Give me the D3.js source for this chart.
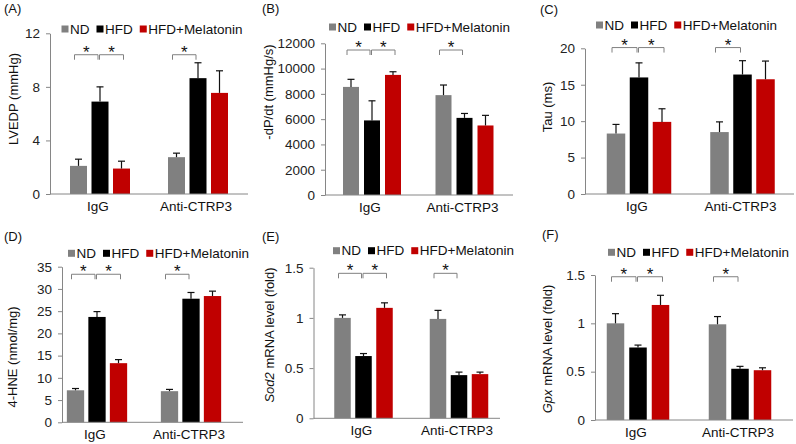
<!DOCTYPE html>
<html><head><meta charset="utf-8">
<script src="https://cdn.jsdelivr.net/npm/d3@7"></script>
<style>
body{margin:0;background:#fff}
svg{display:block}
text{font-family:Arial,"Liberation Sans",sans-serif}
</style>
</head><body>
<svg id="chart" width="796" height="444"></svg>
<script>
// ---------- data ----------
const categories = ["IgG", "Anti-CTRP3"];
const seriesNames = ["ND", "HFD", "HFD+Melatonin"];

// values per category: [ND, HFD, HFD+Melatonin]
const lvedpMean = [[2.1, 6.9, 1.9], [2.75, 8.65, 7.55]];
const lvedpErr  = [[0.5, 1.1, 0.55], [0.3, 1.15, 1.65]];
const dpdtMean  = [[8550, 5900, 9500], [7900, 6100, 5500]];
const dpdtErr   = [[600, 1550, 250], [800, 350, 800]];
const tauMean   = [[8.3, 16.0, 9.9], [8.5, 16.4, 15.75]];
const tauErr    = [[1.25, 2.0, 1.8], [1.4, 1.9, 2.5]];
const hneMean   = [[7.2, 23.7, 13.3], [7.0, 27.8, 28.4]];
const hneErr    = [[0.4, 1.2, 0.8], [0.4, 1.4, 1.1]];
const sod2Mean  = [[1.0, 0.62, 1.10], [0.99, 0.43, 0.44]];
const sod2Err   = [[0.03, 0.025, 0.05], [0.085, 0.03, 0.02]];
const gpxMean   = [[1.0, 0.75, 1.19], [0.99, 0.53, 0.515]];
const gpxErr    = [[0.1, 0.025, 0.1], [0.08, 0.025, 0.025]];

const ticksA = [0, 4, 8, 12];
const ticksB = [0, 2000, 4000, 6000, 8000, 10000, 12000];
const ticksC = [0, 5, 10, 15, 20];
const ticksD = [0, 5, 10, 15, 20, 25, 30, 35];
const ticksE = [0, 0.5, 1, 1.5];
const ticksF = [0, 0.5, 1, 1.5];

const panelLabels = ["(A)", "(B)", "(C)", "(D)", "(E)", "(F)"];
// significance brackets: [category index, series a, series b]
const sigPairs = [[0, 0, 1], [0, 1, 2], [1, 0, 1]];
const sigLevel = [10.4, 11470, 20.1, 33.3, 1.444, 1.482];

// ---------- styles ----------
const colors = {"ND": "#808080", "HFD": "#000000", "HFD+Melatonin": "#c00000"};
const axisColor = "#868686";

const panels = [
  {label: panelLabels[0], title: [{t: "LVEDP (mmHg)"}], mean: lvedpMean, err: lvedpErr, ticks: ticksA, sig: sigLevel[0],
   L: {ax: 50, ae: 248, yb: 194, yt: 33.3, c1: 100, c2: 198, bw: 17, st: 21.5, tx: 13, ty: 99, lx: 61.5, ly: 29, px: 4, py: 13}},
  {label: panelLabels[1], title: [{t: "-dP/dt (mmHg/s)"}], mean: dpdtMean, err: dpdtErr, ticks: ticksB, sig: sigLevel[1],
   L: {ax: 325, ae: 513, yb: 195, yt: 43.3, c1: 372, c2: 464.5, bw: 16, st: 21, tx: 268, ty: 92, lx: 329, ly: 27, px: 262, py: 13}},
  {label: panelLabels[2], title: [{t: "Tau (ms)"}], mean: tauMean, err: tauErr, ticks: ticksC, sig: sigLevel[2],
   L: {ax: 585, ae: 794, yb: 194, yt: 48.3, c1: 639, c2: 742.5, bw: 18.5, st: 23, tx: 547, ty: 107, lx: 596, ly: 25, px: 540, py: 14}},
  {label: panelLabels[3], title: [{t: "4-HNE (nmol/mg)"}], mean: hneMean, err: hneErr, ticks: ticksD, sig: sigLevel[3],
   L: {ax: 62, ae: 243, yb: 422.3, yt: 266.7, c1: 97, c2: 191, bw: 17.3, st: 21.5, tx: 12, ty: 357, lx: 68, ly: 253.3, px: 4, py: 241}},
  {label: panelLabels[4], title: [{t: "Sod2", i: true}, {t: " mRNA level (fold)"}], mean: sod2Mean, err: sod2Err, ticks: ticksE, sig: sigLevel[4],
   L: {ax: 313.5, ae: 500, yb: 418.3, yt: 267.7, c1: 363.5, c2: 459, bw: 16.5, st: 21, tx: 269, ty: 335, lx: 333, ly: 250.7, px: 262, py: 241}},
  {label: panelLabels[5], title: [{t: "Gpx", i: true}, {t: " mRNA level (fold)"}], mean: gpxMean, err: gpxErr, ticks: ticksF, sig: sigLevel[5],
   L: {ax: 595, ae: 793, yb: 420, yt: 275, c1: 638, c2: 740, bw: 17.5, st: 22.5, tx: 547, ty: 349, lx: 608, ly: 252.3, px: 542, py: 239}}
];

const svg = d3.select("#chart");

panels.forEach(p => {
  const L = p.L;
  const g = svg.append("g");
  const half = (L.c2 - L.c1) / 2;
  const x0 = d3.scaleBand().domain(categories).range([L.c1 - half, L.c2 + half]);
  const pad = 1 - L.bw / L.st;
  const x1 = d3.scaleBand().domain(seriesNames).range([-1.5 * L.st, 1.5 * L.st]).paddingInner(pad).paddingOuter(pad / 2);
  const y = d3.scaleLinear().domain([d3.min(p.ticks), d3.max(p.ticks)]).range([L.yb, L.yt]);
  const cx = c => x0(c) + x0.bandwidth() / 2;
  const barCenter = (c, s) => cx(c) + x1(s) + x1.bandwidth() / 2;

  // panel label
  g.append("text").attr("x", L.px).attr("y", L.py).attr("font-size", 13).attr("fill", "#111").text(p.label);

  // y axis
  const ya = g.append("g").attr("transform", `translate(${L.ax},0)`)
    .call(d3.axisLeft(y).tickValues(p.ticks).tickSize(4).tickSizeOuter(0).tickPadding(6).tickFormat(d => String(d)));
  ya.select(".domain").attr("stroke", axisColor);
  ya.selectAll(".tick line").attr("stroke", axisColor);
  ya.selectAll(".tick text").attr("font-size", 13.5).attr("fill", "#222")
    .attr("font-family", 'Arial,"Liberation Sans",sans-serif');

  // y title
  const tt = g.append("text").attr("transform", `translate(${L.tx},${L.ty}) rotate(-90)`)
    .attr("text-anchor", "middle").attr("dy", "0.35em").attr("font-size", 13).attr("fill", "#111");
  p.title.forEach(part => tt.append("tspan").attr("font-style", part.i ? "italic" : "normal").text(part.t));

  // bars
  const rows = [];
  categories.forEach((c, ci) => seriesNames.forEach((s, si) => rows.push({c, s, v: p.mean[ci][si], e: p.err[ci][si]})));
  g.selectAll("rect.bar").data(rows).join("rect").attr("class", "bar")
    .attr("x", d => cx(d.c) + x1(d.s)).attr("width", x1.bandwidth())
    .attr("y", d => y(d.v)).attr("height", d => y(0) - y(d.v))
    .attr("fill", d => colors[d.s]);

  // error bars (upper)
  const eb = g.selectAll("g.eb").data(rows).join("g").attr("class", "eb");
  eb.append("line").attr("x1", d => barCenter(d.c, d.s)).attr("x2", d => barCenter(d.c, d.s))
    .attr("y1", d => y(d.v)).attr("y2", d => y(d.v + d.e)).attr("stroke", "#111").attr("stroke-width", 1.2);
  eb.append("line").attr("x1", d => barCenter(d.c, d.s) - 3.5).attr("x2", d => barCenter(d.c, d.s) + 3.5)
    .attr("y1", d => y(d.v + d.e)).attr("y2", d => y(d.v + d.e)).attr("stroke", "#111").attr("stroke-width", 1.2);

  // x axis line
  g.append("line").attr("x1", L.ax).attr("x2", L.ae).attr("y1", y(0)).attr("y2", y(0)).attr("stroke", axisColor).attr("stroke-width", 1);

  // category labels
  g.selectAll("text.cat").data(categories).join("text").attr("class", "cat")
    .attr("x", d => cx(d) - 2).attr("y", y(0) + 16.5).attr("text-anchor", "middle")
    .attr("font-size", 13.5).attr("fill", "#111").text(d => d);

  // significance brackets
  const by = y(p.sig);
  sigPairs.forEach(([ci, a, b]) => {
    const c = categories[ci];
    const xa = barCenter(c, seriesNames[a]) - (a === 0 ? 4 : 0.5);
    const xb = barCenter(c, seriesNames[b]) - (b === 1 ? 2 : -2);
    g.append("path").attr("d", `M${xa},${by + 5}V${by}H${xb}V${by + 5}`)
      .attr("fill", "none").attr("stroke", "#808080").attr("stroke-width", 1);
    g.append("text").attr("x", (xa + xb) / 2).attr("y", by + 3).attr("text-anchor", "middle")
      .attr("font-size", 17).attr("fill", "#111").text("*");
  });

  // legend
  let lx = L.lx;
  seriesNames.forEach(s => {
    g.append("rect").attr("x", lx).attr("y", L.ly - 3.5).attr("width", 7).attr("height", 7).attr("fill", colors[s]);
    const t = g.append("text").attr("x", lx + 8.5).attr("y", L.ly).attr("dy", "0.35em")
      .attr("font-size", 13.5).attr("fill", "#111").text(s);
    lx += 8.5 + t.node().getComputedTextLength() + 7;
  });
});
</script>
</body></html>
